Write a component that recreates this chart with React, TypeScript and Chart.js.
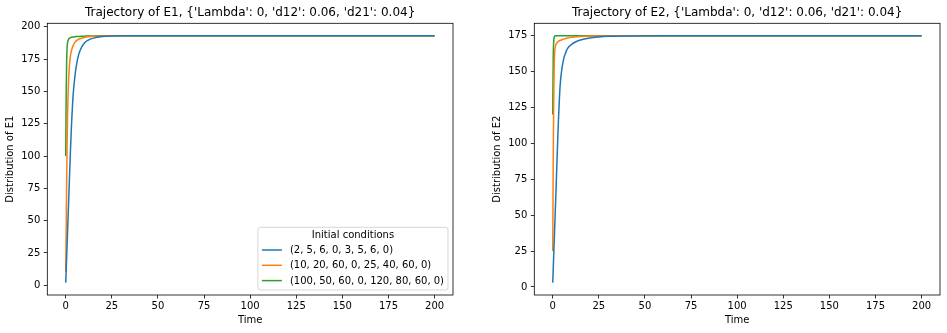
import React, { useEffect, useRef } from "react";
import { Chart, registerables } from "chart.js";

Chart.register(...registerables);

// ---- data ----
const TIME = [0, 0.25, 0.5, 0.75, 1, 1.5, 2, 2.5, 3, 4, 5, 6, 7, 8, 10, 12, 15, 20, 25, 30, 40, 60, 100, 150, 200];

const SERIES_LABELS = [
  "(2, 5, 6, 0, 3, 5, 6, 0)",
  "(10, 20, 60, 0, 25, 40, 60, 0)",
  "(100, 50, 60, 0, 120, 80, 60, 0)",
];

const COLORS = ["#1f77b4", "#ff7f0e", "#2ca02c"];

const E1_A = [2, 12, 22, 32, 42, 62, 82, 102, 120, 147, 162, 172, 178.5, 182.5, 187.3, 189.6, 191.3, 192.5, 192.9, 193.1, 193.2, 193.2, 193.2, 193.2, 193.2];
const E1_B = [10, 45, 80, 110, 132, 157, 170, 177, 181, 185.5, 188, 189.5, 190.4, 191, 191.8, 192.3, 192.7, 193, 193.1, 193.2, 193.2, 193.2, 193.2, 193.2, 193.2];
const E1_C = [100, 150, 174, 184, 188, 190.3, 191.2, 191.6, 191.9, 192.2, 192.4, 192.5, 192.6, 192.7, 192.8, 192.9, 193, 193.1, 193.2, 193.2, 193.2, 193.2, 193.2, 193.2, 193.2];

const E2_A = [3, 12, 21, 30, 39, 57, 76, 95, 113, 140, 152, 159, 163, 165.8, 168.5, 170.2, 171.8, 173.2, 173.9, 174.3, 174.6, 174.8, 174.8, 174.8, 174.8];
const E2_B = [25, 85, 125, 150, 162, 167.5, 169.3, 170.2, 170.8, 171.5, 172, 172.4, 172.8, 173.1, 173.6, 173.9, 174.2, 174.5, 174.6, 174.7, 174.8, 174.8, 174.8, 174.8, 174.8];
const E2_C = [120, 158, 170, 173.5, 174.5, 174.7, 174.8, 174.8, 174.8, 174.8, 174.8, 174.8, 174.8, 174.8, 174.8, 174.8, 174.8, 174.8, 174.8, 174.8, 174.8, 174.8, 174.8, 174.8, 174.8];

const TICK_STEP = 25;
const LEGEND_TITLE = "Initial conditions";
const TITLE_E1 = "Trajectory of E1, {'Lambda': 0, 'd12': 0.06, 'd21': 0.04}";
const TITLE_E2 = "Trajectory of E2, {'Lambda': 0, 'd12': 0.06, 'd21': 0.04}";

const FONT = '"DejaVu Sans", "Liberation Sans", sans-serif';

function makeDecor(title: string, showLegend: boolean) {
  return {
    id: "mplDecor",
    afterDraw(chart: any) {
      const { ctx, chartArea: ca } = chart;
      ctx.save();
      // axes frame (spines)
      ctx.strokeStyle = "#000";
      ctx.lineWidth = 0.8;
      ctx.strokeRect(ca.left, ca.top, ca.right - ca.left, ca.bottom - ca.top);
      // title
      ctx.fillStyle = "#000";
      ctx.font = `12px ${FONT}`;
      ctx.textAlign = "center";
      ctx.textBaseline = "alphabetic";
      ctx.fillText(title, (ca.left + ca.right) / 2, 16);
      if (showLegend) {
        ctx.font = `10px ${FONT}`;
        const textW = Math.max(...SERIES_LABELS.map((l) => ctx.measureText(l).width));
        const right = ca.right - 5;
        const bottom = ca.bottom - 5;
        const w = 4 + 20 + 8 + textW + 4;
        const h = 62.7;
        const left = right - w;
        const top = bottom - h;
        ctx.beginPath();
        const r = 2.5;
        ctx.moveTo(left + r, top);
        ctx.lineTo(right - r, top);
        ctx.quadraticCurveTo(right, top, right, top + r);
        ctx.lineTo(right, bottom - r);
        ctx.quadraticCurveTo(right, bottom, right - r, bottom);
        ctx.lineTo(left + r, bottom);
        ctx.quadraticCurveTo(left, bottom, left, bottom - r);
        ctx.lineTo(left, top + r);
        ctx.quadraticCurveTo(left, top, left + r, top);
        ctx.closePath();
        ctx.fillStyle = "rgba(255,255,255,0.8)";
        ctx.fill();
        ctx.strokeStyle = "rgba(204,204,204,0.8)";
        ctx.lineWidth = 1;
        ctx.stroke();
        ctx.fillStyle = "#000";
        ctx.textAlign = "center";
        ctx.textBaseline = "middle";
        ctx.fillText(LEGEND_TITLE, (left + right) / 2, top + 8);
        ctx.textAlign = "left";
        SERIES_LABELS.forEach((lab, i) => {
          const y = top + 22.7 + i * 15.3;
          ctx.strokeStyle = COLORS[i];
          ctx.lineWidth = 1.5;
          ctx.beginPath();
          ctx.moveTo(left + 4, y);
          ctx.lineTo(left + 24, y);
          ctx.stroke();
          ctx.fillStyle = "#000";
          ctx.fillText(lab, left + 32, y + 0.5);
        });
      }
      ctx.restore();
    },
  };
}

type PlotProps = {
  left: number;
  width: number;
  title: string;
  yTitle: string;
  series: number[][];
  padLeft: number;
  padRight: number;
  showLegend: boolean;
};

function Plot({ left, width, title, yTitle, series, padLeft, padRight, showLegend }: PlotProps) {
  const ref = useRef<HTMLCanvasElement>(null);
  useEffect(() => {
    const all = series.flat();
    const lo = Math.min(...all);
    const hi = Math.max(...all);
    const ym = (hi - lo) * 0.05;
    const t0 = TIME[0];
    const t1 = TIME[TIME.length - 1];
    const xm = (t1 - t0) * 0.05;
    const tickFont = { family: FONT, size: 10 };
    const grid = {
      display: true,
      drawOnChartArea: false,
      drawTicks: true,
      tickLength: 3.5,
      color: "#000",
      tickColor: "#000",
      lineWidth: 0.8,
      tickWidth: 0.8,
    };
    const chart = new Chart(ref.current as HTMLCanvasElement, {
      type: "line",
      data: {
        datasets: series.map((vals, i) => ({
          label: SERIES_LABELS[i],
          data: TIME.map((t, k) => ({ x: t, y: vals[k] })),
          borderColor: COLORS[i],
          backgroundColor: COLORS[i],
          borderWidth: 1.5,
          pointRadius: 0,
          cubicInterpolationMode: "monotone" as const,
          fill: false,
        })),
      },
      options: {
        responsive: false,
        animation: false,
        events: [],
        layout: { padding: { top: 23.3, left: padLeft, right: padRight, bottom: 0 } },
        plugins: {
          legend: { display: false },
          tooltip: { enabled: false },
          title: { display: false },
        },
        scales: {
          x: {
            type: "linear",
            min: t0 - xm,
            max: t1 + xm,
            afterFit: (s: any) => {
              s.height = 38;
            },
            ticks: {
              stepSize: TICK_STEP,
              includeBounds: false,
              autoSkip: false,
              maxRotation: 0,
              padding: 2,
              color: "#000",
              font: tickFont,
            },
            grid,
            border: { display: false },
            title: {
              display: true,
              text: "Time",
              color: "#000",
              font: tickFont,
              padding: { top: 0, bottom: 7 },
            },
          },
          y: {
            type: "linear",
            min: lo - ym,
            max: hi + ym,
            afterFit: (s: any) => {
              s.width = 47.3;
            },
            ticks: {
              stepSize: TICK_STEP,
              includeBounds: false,
              autoSkip: false,
              padding: 3.5,
              color: "#000",
              font: tickFont,
            },
            grid,
            border: { display: false },
            title: {
              display: true,
              text: yTitle,
              color: "#000",
              font: tickFont,
              padding: { top: 4.5, bottom: 0 },
            },
          },
        },
      } as any,
      plugins: [makeDecor(title, showLegend)],
    });
    return () => chart.destroy();
  }, []);
  return (
    <canvas
      ref={ref}
      width={width}
      height={333}
      style={{ position: "absolute", left, top: 0, width, height: 333 }}
    />
  );
}

export default function App() {
  return (
    <div
      style={{
        position: "absolute",
        left: 0,
        top: 0,
        width: 947,
        height: 333,
        background: "#fff",
        overflow: "hidden",
      }}
    >
      <Plot
        left={0}
        width={470}
        title={TITLE_E1}
        yTitle="Distribution of E1"
        series={[E1_A, E1_B, E1_C]}
        padLeft={0}
        padRight={17}
        showLegend={true}
      />
      <Plot
        left={470}
        width={477}
        title={TITLE_E2}
        yTitle="Distribution of E2"
        series={[E2_A, E2_B, E2_C]}
        padLeft={17}
        padRight={7}
        showLegend={false}
      />
    </div>
  );
}
